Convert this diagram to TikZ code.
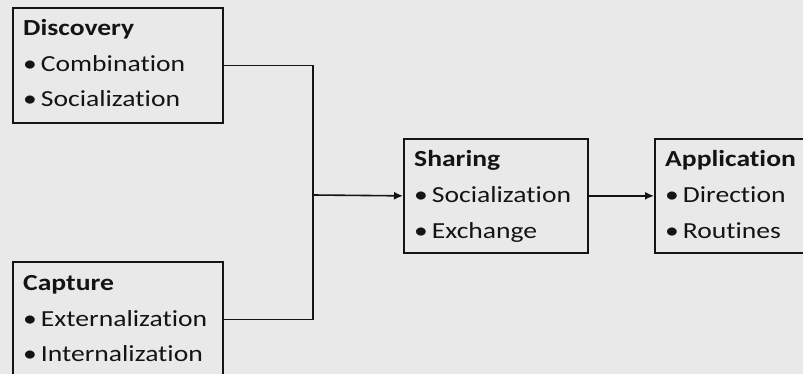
\documentclass[tikz,border=0pt]{standalone}
\usepackage{fontspec}
\setmainfont{Carlito}[FakeStretch=1.2, Ligatures=NoCommon]
\usetikzlibrary{arrows.meta}
\definecolor{pagebg}{RGB}{233,233,233}
\definecolor{ink}{RGB}{20,20,20}
\tikzset{
  stagebox/.style={draw=ink, line width=1.7pt, fill=pagebg, inner sep=0pt,
    anchor=north west, minimum height=115pt},
  txt/.style={anchor=base west, inner sep=0pt, text=ink,
    font=\fontsize{23}{28}\selectfont},
  head/.style={txt, font=\fontsize{23}{28}\selectfont\bfseries},
  link/.style={draw=ink, line width=1.6pt},
  arrowlink/.style={link, -{Latex[length=9pt,width=8pt]}}
}
% heading and two bullet items placed inside a stage box
\newcommand{\stagetext}[4]{%
  \node[head] (#1-h) at ([shift={(11pt,-29pt)}]#1.north west) {#2};
  \node[txt]  (#1-a) at ([shift={(11pt,-65pt)}]#1.north west) {\textbullet\hspace{4pt}#3};
  \node[txt]  (#1-b) at ([shift={(11pt,-100pt)}]#1.north west) {\textbullet\hspace{4pt}#4};
}
\begin{document}
\begin{tikzpicture}[x=1pt,y=-1pt]
  \useasboundingbox[fill=pagebg] (0,0) rectangle (803,374);
  \clip (0,0) rectangle (803,374);

  \node[stagebox, minimum width=210pt] (disc) at (12,7) {};
  \node[stagebox, minimum width=210pt] (capt) at (12,261) {};
  \node[stagebox, minimum width=184pt, minimum height=114pt] (shar) at (403,138) {};
  \node[stagebox, minimum width=184pt, minimum height=114pt] (appl) at (654,138) {};

  \stagetext{disc}{Discovery}{Combination}{Socialization}
  \stagetext{capt}{Capture}{Externalization}{Internalization}
  \stagetext{shar}{Sharing}{Socialization}{Exchange}
  \stagetext{appl}{Application}{Direction}{Routines}

  % the two sources merge into one line feeding the sharing stage
  \coordinate (merge) at (313,195);
  \draw[link] (disc.east) -| (merge) |- (capt.east);
  \draw[arrowlink] (merge) -- (shar.west);
  \draw[arrowlink] (shar.east) -- (appl.west);
\end{tikzpicture}
\end{document}
